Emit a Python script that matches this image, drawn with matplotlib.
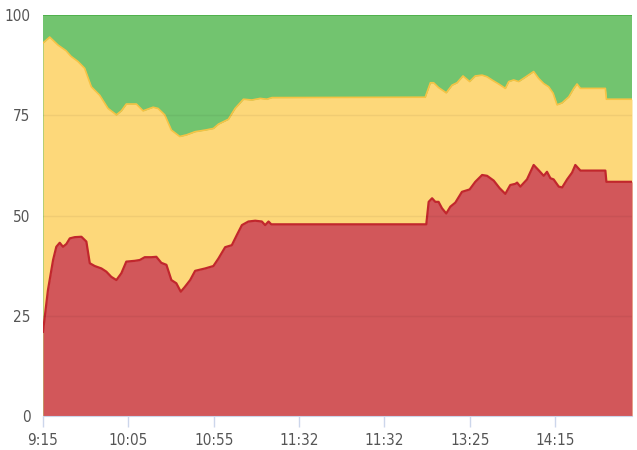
import matplotlib
matplotlib.use("Agg")
import matplotlib.pyplot as plt
from matplotlib import font_manager

# ---- data ----
tick_labels = ["9:15", "10:05", "10:55", "11:32", "11:32", "13:25", "14:15"]
tick_pos = [0, 50, 100, 150, 200, 250, 300]
x_max = 345

# upper boundary (top of yellow band)
top_x = [0, 3.9, 8.8, 13.5, 16.4, 20.5, 24.4, 28.3, 33.2, 38.1, 43.0, 45.9, 48.8,
         54.7, 58.6, 62.5, 64.5, 67.4, 71.3, 75.2, 80.1, 84.0, 89.1, 95.0, 99.8,
         102.8, 108.6, 112.5, 117.4, 122.3, 127.2, 131.1, 134.1, 223.9, 226.9,
         228.8, 231.7, 236.2, 239.6, 242.5, 246.0, 249.9, 253.2, 257.2, 260.1,
         263.0, 266.9, 270.8, 272.8, 275.7, 278.6, 282.5, 287.4, 290.3, 293.3,
         296.2, 298.8, 301.1, 304.1, 308.0, 310.9, 312.8, 314.8, 329.4, 330.0, 345]
top_v = [93.0, 94.5, 92.5, 91.1, 89.7, 88.4, 86.7, 82.1, 80.0, 76.7, 75.1, 76.1, 77.8,
         77.8, 76.1, 76.7, 77.0, 76.7, 75.1, 71.3, 69.7, 70.1, 70.9, 71.3, 71.7,
         72.8, 74.0, 76.7, 79.0, 78.8, 79.2, 79.0, 79.4, 79.5, 83.1,
         83.1, 81.9, 80.6, 82.5, 83.1, 84.8, 83.4, 84.8, 85.0, 84.6,
         83.8, 82.8, 81.7, 83.4, 83.8, 83.4, 84.5, 85.9, 84.2, 82.9,
         82.1, 80.5, 77.6, 78.1, 79.6, 81.7, 82.8, 81.7, 81.7, 79.0, 79.0]

# lower boundary (top of red band)
red_x = [0, 2.9, 5.9, 7.8, 9.8, 11.7, 13.7, 15.7, 18.6, 22.5, 25.4, 27.4, 30.3,
         34.2, 37.1, 40.0, 43.0, 45.9, 48.8, 53.8, 56.7, 59.6, 63.5, 66.4, 69.3,
         72.3, 75.2, 78.1, 80.7, 83.1, 86.2, 89.1, 95.0, 99.8, 102.8, 106.7,
         110.6, 113.5, 116.5, 120.3, 124.3, 128.2, 130.1, 132.1, 133.7, 224.5,
         225.9, 227.9, 229.8, 231.7, 233.7, 236.2, 238.6, 241.5, 245.4, 249.9,
         253.2, 257.2, 260.1, 264.0, 267.5, 270.8, 273.7, 276.7, 277.7, 279.6,
         283.5, 287.4, 290.3, 293.3, 295.2, 297.2, 299.1, 302.1, 304.1, 307.0,
         309.9, 311.8, 314.8, 329.4, 330.0, 345]
red_v = [21.0, 31.4, 38.9, 42.2, 43.2, 42.2, 42.9, 44.3, 44.6, 44.7, 43.5, 38.1, 37.4,
         36.8, 36.0, 34.7, 33.9, 35.6, 38.5, 38.7, 38.9, 39.6, 39.6, 39.7, 38.2,
         37.7, 33.9, 33.1, 31.0, 32.2, 33.9, 36.2, 36.8, 37.4, 39.3, 42.1,
         42.6, 45.1, 47.6, 48.5, 48.7, 48.5, 47.6, 48.5, 47.8, 47.8,
         53.4, 54.3, 53.4, 53.4, 51.8, 50.5, 52.2, 53.2, 55.9, 56.5,
         58.4, 60.1, 59.9, 58.7, 56.8, 55.4, 57.6, 57.9, 58.2, 57.2,
         59.0, 62.6, 61.3, 59.9, 60.9, 59.3, 59.0, 57.2, 57.0, 59.0,
         60.7, 62.6, 61.2, 61.2, 58.4, 58.4]

# ---- style ----
names = {f.name for f in font_manager.fontManager.ttflist}
fam = "Liberation Sans Narrow" if "Liberation Sans Narrow" in names else "DejaVu Sans"
plt.rcParams["font.family"] = [fam, "DejaVu Sans"]
plt.rcParams["font.stretch"] = "condensed"

fig = plt.figure(figsize=(6.37, 4.5), dpi=100)
ax = fig.add_axes([43 / 637, 34 / 450, 589 / 637, 401 / 450])

green_fill = "#72c46f"
green_line = "#4daf4a"
yellow_fill = "#fdd87a"
yellow_line = "#f6c344"
red_fill = "#d2575a"
red_line = "#c1272d"

ax.fill_between([0, x_max], [100, 100], 0, color=green_fill, lw=0, zorder=1)
ax.plot([0, x_max], [100, 100], color=green_line, lw=1.3, zorder=4)
ax.fill_between(top_x, top_v, 0, color=yellow_fill, lw=0, zorder=2)
ax.plot(top_x, top_v, color=yellow_line, lw=1.2, zorder=4)
ax.fill_between(red_x, red_v, 0, color=red_fill, lw=0, zorder=3)
ax.plot(red_x, red_v, color=red_line, lw=1.6, zorder=5)

# faint horizontal grid over fills
for yv in [25, 50, 75]:
    ax.axhline(yv, color="#000000", alpha=0.05, lw=1, zorder=6)

ax.set_xlim(0, x_max)
ax.set_ylim(0, 100)
ax.set_yticks([0, 25, 50, 75, 100])
ax.set_yticklabels(["0", "25", "50", "75", "100"])
ax.set_xticks(tick_pos)
ax.set_xticklabels(tick_labels)

for s in ["top", "right", "left"]:
    ax.spines[s].set_visible(False)
ax.spines["bottom"].set_color("#ccd6eb")
ax.spines["bottom"].set_zorder(7)

ax.tick_params(axis="y", length=0, pad=9, labelsize=11, labelcolor="#555555")
ax.tick_params(axis="x", length=8, width=1, color="#ccd6eb", pad=4,
               labelsize=11, labelcolor="#555555")

fig.savefig("out.png", dpi=100)
